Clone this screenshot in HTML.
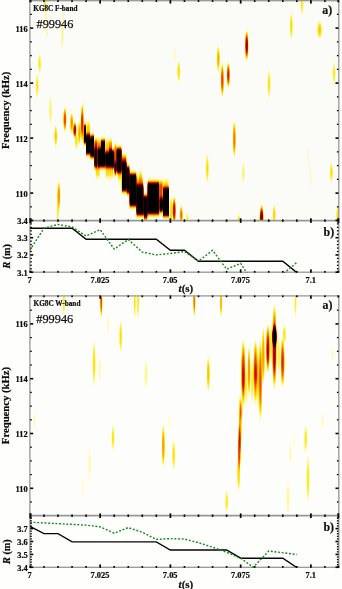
<!DOCTYPE html>
<html lang="en"><head><meta charset="utf-8"><title>KG8C spectrogram #99946</title>
<style>
html,body{margin:0;padding:0;background:#fefefc;}
body{width:342px;height:589px;overflow:hidden;}
svg{display:block;font-family:"Liberation Serif","DejaVu Serif",serif;}
.b{font-weight:bold;}
.tk{font-weight:bold;font-size:8.4px;fill:#0a0a0a;stroke:#0a0a0a;stroke-width:0.22px;}
.b{stroke:#0a0a0a;stroke-width:0.2px;}
</style></head><body>
<svg width="342" height="589" viewBox="0 0 342 589">
<defs>
<filter id="hot" x="0" y="0" width="100%" height="100%" filterUnits="objectBoundingBox" color-interpolation-filters="sRGB">
<feGaussianBlur stdDeviation="0.7 2.0"/>
<feComponentTransfer>
<feFuncR type="table" tableValues="0.996 1 1 1 1 0.96 0.84 0.66 0.43 0.2 0 0 0"/>
<feFuncG type="table" tableValues="0.996 0.98 0.92 0.78 0.59 0.35 0.12 0 0 0 0 0 0"/>
<feFuncB type="table" tableValues="0.988 0.63 0.16 0 0 0 0 0 0 0 0 0 0"/>
</feComponentTransfer>
</filter>
<filter id="hot2" x="0" y="0" width="100%" height="100%" filterUnits="objectBoundingBox" color-interpolation-filters="sRGB">
<feGaussianBlur stdDeviation="0.55 1.0"/>
<feComponentTransfer>
<feFuncR type="table" tableValues="0.996 1 1 1 1 0.96 0.84 0.66 0.43 0.2 0 0 0"/>
<feFuncG type="table" tableValues="0.996 0.98 0.92 0.78 0.59 0.35 0.12 0 0 0 0 0 0"/>
<feFuncB type="table" tableValues="0.988 0.63 0.16 0 0 0 0 0 0 0 0 0 0"/>
</feComponentTransfer>
</filter>
<radialGradient id="g"><stop offset="0" stop-color="#fff" stop-opacity="1"/><stop offset="0.45" stop-color="#fff" stop-opacity="0.86"/><stop offset="0.75" stop-color="#fff" stop-opacity="0.45"/><stop offset="1" stop-color="#fff" stop-opacity="0"/></radialGradient>
<clipPath id="c1"><rect x="29.9" y="0.7" width="308.90000000000003" height="219.9"/></clipPath>
<clipPath id="c2"><rect x="29.9" y="295.9" width="308.90000000000003" height="219.80000000000007"/></clipPath>
</defs>
<rect width="342" height="589" fill="#fefefc"/>

<g clip-path="url(#c1)"><g filter="url(#hot)"><rect x="0" y="0" width="342" height="240" fill="#000"/>
<rect x="83.7" y="125.5" width="2.3" height="17.5" fill="#fff" opacity="1.00"/>
<rect x="86.0" y="136.0" width="4.3" height="18.0" fill="#fff" opacity="1.00"/>
<rect x="90.3" y="136.0" width="3.7" height="21.0" fill="#fff" opacity="1.00"/>
<rect x="94.3" y="149.0" width="3.3" height="18.0" fill="#fff" opacity="1.00"/>
<rect x="98.0" y="149.0" width="3.0" height="18.0" fill="#fff" opacity="1.00"/>
<rect x="101.0" y="140.5" width="4.0" height="26.5" fill="#fff" opacity="1.00"/>
<rect x="105.2" y="154.0" width="3.8" height="13.0" fill="#fff" opacity="1.00"/>
<rect x="109.0" y="150.0" width="3.0" height="17.0" fill="#fff" opacity="1.00"/>
<rect x="112.0" y="150.5" width="2.4" height="17.0" fill="#fff" opacity="1.00"/>
<rect x="114.6" y="163.0" width="1.6" height="9.0" fill="#fff" opacity="1.00"/>
<rect x="116.4" y="148.5" width="5.2" height="24.0" fill="#fff" opacity="1.00"/>
<rect x="121.8" y="162.5" width="4.8" height="28.5" fill="#fff" opacity="1.00"/>
<rect x="126.6" y="167.0" width="2.9" height="26.0" fill="#fff" opacity="1.00"/>
<rect x="129.5" y="174.0" width="6.9" height="32.0" fill="#fff" opacity="1.00"/>
<rect x="136.4" y="185.0" width="7.1" height="30.0" fill="#fff" opacity="1.00"/>
<rect x="143.5" y="196.0" width="4.0" height="20.0" fill="#fff" opacity="1.00"/>
<rect x="147.5" y="182.5" width="11.8" height="31.5" fill="#fff" opacity="1.00"/>
<rect x="159.6" y="199.0" width="3.2" height="12.5" fill="#fff" opacity="1.00"/>
<rect x="163.0" y="188.0" width="6.0" height="28.0" fill="#fff" opacity="1.00"/>
<rect x="86.3" y="123.0" width="3.7" height="13.0" fill="#fff" opacity="0.22"/>
<rect x="86.3" y="134.0" width="3.7" height="5.0" fill="#fff" opacity="0.60"/>
<rect x="94.3" y="140.0" width="3.3" height="11.0" fill="#fff" opacity="0.52"/>
<rect x="98.0" y="141.0" width="3.0" height="10.0" fill="#fff" opacity="0.36"/>
<rect x="105.2" y="141.0" width="3.8" height="11.0" fill="#fff" opacity="0.22"/>
<rect x="105.2" y="151.0" width="3.8" height="5.0" fill="#fff" opacity="0.60"/>
<rect x="105.5" y="167.0" width="7.5" height="10.0" fill="#fff" opacity="0.20"/>
<rect x="95.7" y="167.0" width="3.9" height="10.0" fill="#fff" opacity="0.20"/>
<rect x="109.0" y="141.0" width="3.0" height="10.0" fill="#fff" opacity="0.36"/>
<rect x="114.3" y="165.0" width="1.7" height="10.0" fill="#fff" opacity="0.45"/>
<rect x="114.6" y="145.0" width="1.6" height="19.0" fill="#fff" opacity="0.42"/>
<rect x="121.8" y="156.0" width="4.6" height="9.0" fill="#fff" opacity="0.48"/>
<rect x="118.0" y="172.0" width="3.0" height="8.0" fill="#fff" opacity="0.20"/>
<rect x="136.4" y="178.0" width="6.6" height="9.0" fill="#fff" opacity="0.30"/>
<rect x="139.0" y="172.0" width="3.0" height="10.0" fill="#fff" opacity="0.18"/>
<rect x="144.0" y="214.0" width="3.3" height="6.0" fill="#fff" opacity="0.50"/>
<rect x="159.6" y="182.0" width="3.2" height="19.0" fill="#fff" opacity="0.45"/>
<rect x="163.5" y="181.0" width="5.0" height="10.0" fill="#fff" opacity="0.22"/>
</g>
<g filter="url(#hot2)" style="mix-blend-mode:multiply"><rect x="0" y="0" width="342" height="240" fill="#000"/>
<ellipse cx="44.9" cy="1.5" rx="1.91" ry="12.1" fill="url(#g)" opacity="0.18"/>
<ellipse cx="39.6" cy="63.5" rx="1.91" ry="10.8" fill="url(#g)" opacity="0.18"/>
<ellipse cx="37.2" cy="86.0" rx="1.91" ry="12.7" fill="url(#g)" opacity="0.18"/>
<ellipse cx="50.4" cy="110.5" rx="1.91" ry="15.3" fill="url(#g)" opacity="0.12"/>
<ellipse cx="83.0" cy="107.5" rx="1.84" ry="6.0" fill="url(#g)" opacity="0.08"/>
<ellipse cx="55.7" cy="136.0" rx="1.87" ry="11.8" fill="url(#g)" opacity="0.25"/>
<ellipse cx="58.8" cy="196.0" rx="1.90" ry="15.7" fill="url(#g)" opacity="0.36"/>
<ellipse cx="178.7" cy="71.5" rx="1.88" ry="11.7" fill="url(#g)" opacity="0.21"/>
<ellipse cx="175.0" cy="55.0" rx="1.81" ry="6.7" fill="url(#g)" opacity="0.05"/>
<ellipse cx="218.3" cy="59.0" rx="1.88" ry="13.8" fill="url(#g)" opacity="0.30"/>
<ellipse cx="222.3" cy="80.0" rx="1.99" ry="17.5" fill="url(#g)" opacity="0.47"/>
<ellipse cx="228.3" cy="75.0" rx="2.03" ry="13.0" fill="url(#g)" opacity="0.53"/>
<ellipse cx="246.7" cy="45.5" rx="2.13" ry="15.5" fill="url(#g)" opacity="0.63"/>
<ellipse cx="291.3" cy="26.0" rx="1.88" ry="14.7" fill="url(#g)" opacity="0.21"/>
<ellipse cx="302.0" cy="3.5" rx="1.91" ry="12.1" fill="url(#g)" opacity="0.18"/>
<ellipse cx="269.0" cy="84.0" rx="1.89" ry="14.9" fill="url(#g)" opacity="0.20"/>
<ellipse cx="334.0" cy="73.5" rx="1.91" ry="12.1" fill="url(#g)" opacity="0.18"/>
<ellipse cx="234.3" cy="139.0" rx="1.92" ry="18.9" fill="url(#g)" opacity="0.39"/>
<ellipse cx="207.3" cy="168.5" rx="1.88" ry="15.3" fill="url(#g)" opacity="0.21"/>
<ellipse cx="243.3" cy="172.5" rx="1.91" ry="11.3" fill="url(#g)" opacity="0.12"/>
<ellipse cx="331.4" cy="172.5" rx="1.88" ry="10.4" fill="url(#g)" opacity="0.21"/>
<ellipse cx="261.6" cy="216.5" rx="2.09" ry="12.4" fill="url(#g)" opacity="0.58"/>
<ellipse cx="274.2" cy="215.0" rx="1.88" ry="10.8" fill="url(#g)" opacity="0.23"/>
<ellipse cx="239.0" cy="220.0" rx="1.92" ry="6.4" fill="url(#g)" opacity="0.18"/>
<ellipse cx="337.7" cy="216.0" rx="1.88" ry="12.3" fill="url(#g)" opacity="0.21"/>
<ellipse cx="64.9" cy="119.5" rx="1.99" ry="12.6" fill="url(#g)" opacity="0.47"/>
<ellipse cx="71.7" cy="123.0" rx="1.90" ry="11.2" fill="url(#g)" opacity="0.36"/>
<ellipse cx="74.8" cy="130.0" rx="2.13" ry="8.6" fill="url(#g)" opacity="0.63"/>
<ellipse cx="76.4" cy="141.0" rx="1.88" ry="8.6" fill="url(#g)" opacity="0.21"/>
<ellipse cx="79.4" cy="133.0" rx="1.89" ry="12.6" fill="url(#g)" opacity="0.31"/>
<ellipse cx="82.2" cy="123.5" rx="2.03" ry="18.9" fill="url(#g)" opacity="0.53"/>
<ellipse cx="174.2" cy="210.5" rx="2.10" ry="14.4" fill="url(#g)" opacity="0.60"/>
<ellipse cx="171.0" cy="210.5" rx="1.88" ry="15.1" fill="url(#g)" opacity="0.23"/>
<ellipse cx="181.2" cy="215.0" rx="1.94" ry="9.9" fill="url(#g)" opacity="0.41"/>
<ellipse cx="187.3" cy="218.5" rx="1.96" ry="6.0" fill="url(#g)" opacity="0.15"/>
<ellipse cx="319.6" cy="29.8" rx="2.86" ry="9.2" fill="url(#g)" opacity="0.25"/>
<ellipse cx="261.6" cy="220.0" rx="3.22" ry="11.5" fill="url(#g)" opacity="0.30"/>
<line x1="45.2" y1="4" x2="47.2" y2="36" stroke="#fff" stroke-opacity="0.075" stroke-width="1.6" stroke-linecap="round"/>
<ellipse cx="57.7" cy="212.5" rx="1.43" ry="12.3" fill="url(#g)" opacity="0.17"/>
<line x1="63.3" y1="13" x2="62.1" y2="46" stroke="#fff" stroke-opacity="0.07" stroke-width="1.6" stroke-linecap="round"/>
<line x1="62.8" y1="26" x2="62.3" y2="42" stroke="#fff" stroke-opacity="0.05" stroke-width="1.6" stroke-linecap="round"/>
<line x1="307.5" y1="150" x2="311.8" y2="185.5" stroke="#fff" stroke-opacity="0.05" stroke-width="1.4" stroke-linecap="round"/>
</g></g>
<g clip-path="url(#c2)"><g filter="url(#hot2)"><rect x="0" y="280" width="342" height="250" fill="#000"/>
<ellipse cx="120.7" cy="336.5" rx="1.88" ry="16.6" fill="url(#g)" opacity="0.21"/>
<ellipse cx="94.0" cy="363.5" rx="1.88" ry="23.9" fill="url(#g)" opacity="0.21"/>
<ellipse cx="99.7" cy="369.0" rx="1.84" ry="14.7" fill="url(#g)" opacity="0.07"/>
<ellipse cx="108.0" cy="323.5" rx="1.81" ry="11.3" fill="url(#g)" opacity="0.05"/>
<ellipse cx="208.3" cy="374.0" rx="1.88" ry="18.8" fill="url(#g)" opacity="0.27"/>
<ellipse cx="146.0" cy="374.5" rx="1.90" ry="15.3" fill="url(#g)" opacity="0.11"/>
<ellipse cx="332.7" cy="354.0" rx="1.82" ry="6.7" fill="url(#g)" opacity="0.06"/>
<ellipse cx="113.0" cy="438.0" rx="1.89" ry="13.7" fill="url(#g)" opacity="0.20"/>
<ellipse cx="89.7" cy="465.0" rx="1.84" ry="18.7" fill="url(#g)" opacity="0.07"/>
<ellipse cx="34.7" cy="421.5" rx="1.81" ry="10.0" fill="url(#g)" opacity="0.05"/>
<ellipse cx="83.0" cy="486.5" rx="1.79" ry="12.7" fill="url(#g)" opacity="0.04"/>
<ellipse cx="163.3" cy="446.0" rx="1.90" ry="22.6" fill="url(#g)" opacity="0.34"/>
<ellipse cx="173.7" cy="455.0" rx="1.88" ry="16.0" fill="url(#g)" opacity="0.21"/>
<ellipse cx="169.0" cy="421.5" rx="1.79" ry="10.0" fill="url(#g)" opacity="0.04"/>
<ellipse cx="226.7" cy="501.5" rx="1.91" ry="12.1" fill="url(#g)" opacity="0.18"/>
<ellipse cx="305.7" cy="439.0" rx="1.91" ry="15.3" fill="url(#g)" opacity="0.18"/>
<ellipse cx="308.0" cy="479.0" rx="1.90" ry="25.2" fill="url(#g)" opacity="0.19"/>
<ellipse cx="290.3" cy="453.5" rx="1.82" ry="12.7" fill="url(#g)" opacity="0.06"/>
<ellipse cx="288.0" cy="498.5" rx="1.88" ry="19.3" fill="url(#g)" opacity="0.10"/>
<ellipse cx="322.3" cy="421.5" rx="1.80" ry="10.0" fill="url(#g)" opacity="0.05"/>
<ellipse cx="294.0" cy="440.0" rx="1.79" ry="8.0" fill="url(#g)" opacity="0.04"/>
<ellipse cx="241.2" cy="410.0" rx="1.88" ry="12.0" fill="url(#g)" opacity="0.23"/>
<ellipse cx="249.0" cy="371.0" rx="1.90" ry="25.8" fill="url(#g)" opacity="0.36"/>
<ellipse cx="263.3" cy="356.0" rx="1.89" ry="30.7" fill="url(#g)" opacity="0.33"/>
<ellipse cx="284.4" cy="334.0" rx="1.89" ry="9.9" fill="url(#g)" opacity="0.20"/>
<ellipse cx="240.2" cy="422.5" rx="1.90" ry="31.1" fill="url(#g)" opacity="0.34"/>
<ellipse cx="239.3" cy="447.5" rx="2.00" ry="24.6" fill="url(#g)" opacity="0.48"/>
<ellipse cx="238.6" cy="472.5" rx="1.88" ry="21.1" fill="url(#g)" opacity="0.23"/>
<ellipse cx="63.8" cy="302.0" rx="1.51" ry="15.1" fill="url(#g)" opacity="0.19"/>
<ellipse cx="101.3" cy="301.5" rx="1.48" ry="16.9" fill="url(#g)" opacity="0.47"/>
<ellipse cx="134.7" cy="302.0" rx="1.35" ry="17.2" fill="url(#g)" opacity="0.21"/>
<ellipse cx="138.0" cy="302.0" rx="1.40" ry="17.8" fill="url(#g)" opacity="0.18"/>
<ellipse cx="194.3" cy="301.0" rx="1.44" ry="16.6" fill="url(#g)" opacity="0.41"/>
<ellipse cx="221.0" cy="302.0" rx="1.44" ry="16.1" fill="url(#g)" opacity="0.30"/>
<ellipse cx="295.5" cy="302.5" rx="1.40" ry="15.9" fill="url(#g)" opacity="0.18"/>
<ellipse cx="243.3" cy="373.5" rx="2.61" ry="35.3" fill="url(#g)" opacity="0.51"/>
<ellipse cx="243.2" cy="379.5" rx="2.00" ry="16.7" fill="url(#g)" opacity="0.13"/>
<ellipse cx="255.5" cy="371.5" rx="2.50" ry="33.2" fill="url(#g)" opacity="0.49"/>
<ellipse cx="255.6" cy="374.0" rx="2.00" ry="12.0" fill="url(#g)" opacity="0.13"/>
<ellipse cx="260.4" cy="380.0" rx="2.20" ry="42.9" fill="url(#g)" opacity="0.45"/>
<ellipse cx="267.9" cy="348.5" rx="2.37" ry="25.3" fill="url(#g)" opacity="0.56"/>
<ellipse cx="267.8" cy="353.0" rx="2.00" ry="14.7" fill="url(#g)" opacity="0.13"/>
<ellipse cx="274.4" cy="347.0" rx="2.69" ry="44.1" fill="url(#g)" opacity="0.58"/>
<ellipse cx="274.5" cy="336.5" rx="2.81" ry="13.0" fill="url(#g)" opacity="1.00"/>
<ellipse cx="274.3" cy="360.5" rx="2.27" ry="20.7" fill="url(#g)" opacity="0.15"/>
<ellipse cx="282.6" cy="362.0" rx="2.39" ry="26.1" fill="url(#g)" opacity="0.50"/>
<ellipse cx="252.3" cy="381.0" rx="1.66" ry="24.2" fill="url(#g)" opacity="0.18"/>
<ellipse cx="258.0" cy="377.5" rx="1.61" ry="34.2" fill="url(#g)" opacity="0.20"/>
<ellipse cx="271.2" cy="344.0" rx="1.64" ry="22.6" fill="url(#g)" opacity="0.19"/>
<ellipse cx="278.6" cy="355.0" rx="1.73" ry="22.7" fill="url(#g)" opacity="0.15"/>
<ellipse cx="246.3" cy="387.0" rx="1.73" ry="20.0" fill="url(#g)" opacity="0.15"/>
</g></g>
<g fill="none" stroke="#979797" stroke-width="1.3">
<rect x="29.9" y="0.7" width="308.90000000000003" height="271.5"/>
<line x1="29.9" y1="220.6" x2="338.8" y2="220.6" stroke-width="1.7"/>
</g>
<rect x="29.30" y="0.10" width="2.3" height="2.2" fill="#111"/>
<rect x="337.30" y="0.10" width="2.0" height="2.2" fill="#111"/>
<rect x="29.30" y="218.10" width="2.3" height="5.0" fill="#111"/>
<rect x="337.30" y="218.10" width="2.0" height="5.0" fill="#111"/>
<rect x="29.30" y="270.60" width="2.3" height="2.2" fill="#111"/>
<rect x="337.30" y="270.60" width="2.0" height="2.2" fill="#111"/>
<g fill="none" stroke="#979797" stroke-width="1.3">
<rect x="29.9" y="295.9" width="308.90000000000003" height="271.4"/>
<line x1="29.9" y1="515.7" x2="338.8" y2="515.7" stroke-width="1.7"/>
</g>
<rect x="29.30" y="295.30" width="2.3" height="2.2" fill="#111"/>
<rect x="337.30" y="295.30" width="2.0" height="2.2" fill="#111"/>
<rect x="29.30" y="513.20" width="2.3" height="5.0" fill="#111"/>
<rect x="337.30" y="513.20" width="2.0" height="5.0" fill="#111"/>
<rect x="29.30" y="565.70" width="2.3" height="2.2" fill="#111"/>
<rect x="337.30" y="565.70" width="2.0" height="2.2" fill="#111"/>
<g>
<rect x="43.15" y="0.20" width="1.6" height="1.80" fill="#000"/>
<rect x="57.20" y="0.20" width="1.6" height="1.80" fill="#000"/>
<rect x="71.25" y="0.20" width="1.6" height="1.80" fill="#000"/>
<rect x="85.30" y="0.20" width="1.6" height="1.80" fill="#000"/>
<rect x="99.30" y="0.20" width="1.7" height="3.40" fill="#000"/>
<rect x="113.40" y="0.20" width="1.6" height="1.80" fill="#000"/>
<rect x="127.45" y="0.20" width="1.6" height="1.80" fill="#000"/>
<rect x="141.50" y="0.20" width="1.6" height="1.80" fill="#000"/>
<rect x="155.55" y="0.20" width="1.6" height="1.80" fill="#000"/>
<rect x="169.55" y="0.20" width="1.7" height="3.40" fill="#000"/>
<rect x="183.65" y="0.20" width="1.6" height="1.80" fill="#000"/>
<rect x="197.70" y="0.20" width="1.6" height="1.80" fill="#000"/>
<rect x="211.75" y="0.20" width="1.6" height="1.80" fill="#000"/>
<rect x="225.80" y="0.20" width="1.6" height="1.80" fill="#000"/>
<rect x="239.80" y="0.20" width="1.7" height="3.40" fill="#000"/>
<rect x="253.90" y="0.20" width="1.6" height="1.80" fill="#000"/>
<rect x="267.95" y="0.20" width="1.6" height="1.80" fill="#000"/>
<rect x="282.00" y="0.20" width="1.6" height="1.80" fill="#000"/>
<rect x="296.05" y="0.20" width="1.6" height="1.80" fill="#000"/>
<rect x="310.05" y="0.20" width="1.7" height="3.40" fill="#000"/>
<rect x="324.15" y="0.20" width="1.6" height="1.80" fill="#000"/>
<rect x="43.15" y="219.40" width="1.6" height="2.40" fill="#000"/>
<rect x="57.20" y="219.40" width="1.6" height="2.40" fill="#000"/>
<rect x="71.25" y="219.40" width="1.6" height="2.40" fill="#000"/>
<rect x="85.30" y="219.40" width="1.6" height="2.40" fill="#000"/>
<rect x="99.30" y="218.30" width="1.7" height="4.60" fill="#000"/>
<rect x="113.40" y="219.40" width="1.6" height="2.40" fill="#000"/>
<rect x="127.45" y="219.40" width="1.6" height="2.40" fill="#000"/>
<rect x="141.50" y="219.40" width="1.6" height="2.40" fill="#000"/>
<rect x="155.55" y="219.40" width="1.6" height="2.40" fill="#000"/>
<rect x="169.55" y="218.30" width="1.7" height="4.60" fill="#000"/>
<rect x="183.65" y="219.40" width="1.6" height="2.40" fill="#000"/>
<rect x="197.70" y="219.40" width="1.6" height="2.40" fill="#000"/>
<rect x="211.75" y="219.40" width="1.6" height="2.40" fill="#000"/>
<rect x="225.80" y="219.40" width="1.6" height="2.40" fill="#000"/>
<rect x="239.80" y="218.30" width="1.7" height="4.60" fill="#000"/>
<rect x="253.90" y="219.40" width="1.6" height="2.40" fill="#000"/>
<rect x="267.95" y="219.40" width="1.6" height="2.40" fill="#000"/>
<rect x="282.00" y="219.40" width="1.6" height="2.40" fill="#000"/>
<rect x="296.05" y="219.40" width="1.6" height="2.40" fill="#000"/>
<rect x="310.05" y="218.30" width="1.7" height="4.60" fill="#000"/>
<rect x="324.15" y="219.40" width="1.6" height="2.40" fill="#000"/>
<rect x="43.15" y="270.90" width="1.6" height="1.80" fill="#000"/>
<rect x="57.20" y="270.90" width="1.6" height="1.80" fill="#000"/>
<rect x="71.25" y="270.90" width="1.6" height="1.80" fill="#000"/>
<rect x="85.30" y="270.90" width="1.6" height="1.80" fill="#000"/>
<rect x="99.30" y="269.30" width="1.7" height="3.40" fill="#000"/>
<rect x="113.40" y="270.90" width="1.6" height="1.80" fill="#000"/>
<rect x="127.45" y="270.90" width="1.6" height="1.80" fill="#000"/>
<rect x="141.50" y="270.90" width="1.6" height="1.80" fill="#000"/>
<rect x="155.55" y="270.90" width="1.6" height="1.80" fill="#000"/>
<rect x="169.55" y="269.30" width="1.7" height="3.40" fill="#000"/>
<rect x="183.65" y="270.90" width="1.6" height="1.80" fill="#000"/>
<rect x="197.70" y="270.90" width="1.6" height="1.80" fill="#000"/>
<rect x="211.75" y="270.90" width="1.6" height="1.80" fill="#000"/>
<rect x="225.80" y="270.90" width="1.6" height="1.80" fill="#000"/>
<rect x="239.80" y="269.30" width="1.7" height="3.40" fill="#000"/>
<rect x="253.90" y="270.90" width="1.6" height="1.80" fill="#000"/>
<rect x="267.95" y="270.90" width="1.6" height="1.80" fill="#000"/>
<rect x="282.00" y="270.90" width="1.6" height="1.80" fill="#000"/>
<rect x="296.05" y="270.90" width="1.6" height="1.80" fill="#000"/>
<rect x="310.05" y="269.30" width="1.7" height="3.40" fill="#000"/>
<rect x="324.15" y="270.90" width="1.6" height="1.80" fill="#000"/>
<rect x="43.15" y="295.40" width="1.6" height="1.80" fill="#000"/>
<rect x="57.20" y="295.40" width="1.6" height="1.80" fill="#000"/>
<rect x="71.25" y="295.40" width="1.6" height="1.80" fill="#000"/>
<rect x="85.30" y="295.40" width="1.6" height="1.80" fill="#000"/>
<rect x="99.30" y="295.40" width="1.7" height="3.40" fill="#000"/>
<rect x="113.40" y="295.40" width="1.6" height="1.80" fill="#000"/>
<rect x="127.45" y="295.40" width="1.6" height="1.80" fill="#000"/>
<rect x="141.50" y="295.40" width="1.6" height="1.80" fill="#000"/>
<rect x="155.55" y="295.40" width="1.6" height="1.80" fill="#000"/>
<rect x="169.55" y="295.40" width="1.7" height="3.40" fill="#000"/>
<rect x="183.65" y="295.40" width="1.6" height="1.80" fill="#000"/>
<rect x="197.70" y="295.40" width="1.6" height="1.80" fill="#000"/>
<rect x="211.75" y="295.40" width="1.6" height="1.80" fill="#000"/>
<rect x="225.80" y="295.40" width="1.6" height="1.80" fill="#000"/>
<rect x="239.80" y="295.40" width="1.7" height="3.40" fill="#000"/>
<rect x="253.90" y="295.40" width="1.6" height="1.80" fill="#000"/>
<rect x="267.95" y="295.40" width="1.6" height="1.80" fill="#000"/>
<rect x="282.00" y="295.40" width="1.6" height="1.80" fill="#000"/>
<rect x="296.05" y="295.40" width="1.6" height="1.80" fill="#000"/>
<rect x="310.05" y="295.40" width="1.7" height="3.40" fill="#000"/>
<rect x="324.15" y="295.40" width="1.6" height="1.80" fill="#000"/>
<rect x="43.15" y="514.50" width="1.6" height="2.40" fill="#000"/>
<rect x="57.20" y="514.50" width="1.6" height="2.40" fill="#000"/>
<rect x="71.25" y="514.50" width="1.6" height="2.40" fill="#000"/>
<rect x="85.30" y="514.50" width="1.6" height="2.40" fill="#000"/>
<rect x="99.30" y="513.40" width="1.7" height="4.60" fill="#000"/>
<rect x="113.40" y="514.50" width="1.6" height="2.40" fill="#000"/>
<rect x="127.45" y="514.50" width="1.6" height="2.40" fill="#000"/>
<rect x="141.50" y="514.50" width="1.6" height="2.40" fill="#000"/>
<rect x="155.55" y="514.50" width="1.6" height="2.40" fill="#000"/>
<rect x="169.55" y="513.40" width="1.7" height="4.60" fill="#000"/>
<rect x="183.65" y="514.50" width="1.6" height="2.40" fill="#000"/>
<rect x="197.70" y="514.50" width="1.6" height="2.40" fill="#000"/>
<rect x="211.75" y="514.50" width="1.6" height="2.40" fill="#000"/>
<rect x="225.80" y="514.50" width="1.6" height="2.40" fill="#000"/>
<rect x="239.80" y="513.40" width="1.7" height="4.60" fill="#000"/>
<rect x="253.90" y="514.50" width="1.6" height="2.40" fill="#000"/>
<rect x="267.95" y="514.50" width="1.6" height="2.40" fill="#000"/>
<rect x="282.00" y="514.50" width="1.6" height="2.40" fill="#000"/>
<rect x="296.05" y="514.50" width="1.6" height="2.40" fill="#000"/>
<rect x="310.05" y="513.40" width="1.7" height="4.60" fill="#000"/>
<rect x="324.15" y="514.50" width="1.6" height="2.40" fill="#000"/>
<rect x="43.15" y="566.00" width="1.6" height="1.80" fill="#000"/>
<rect x="57.20" y="566.00" width="1.6" height="1.80" fill="#000"/>
<rect x="71.25" y="566.00" width="1.6" height="1.80" fill="#000"/>
<rect x="85.30" y="566.00" width="1.6" height="1.80" fill="#000"/>
<rect x="99.30" y="564.40" width="1.7" height="3.40" fill="#000"/>
<rect x="113.40" y="566.00" width="1.6" height="1.80" fill="#000"/>
<rect x="127.45" y="566.00" width="1.6" height="1.80" fill="#000"/>
<rect x="141.50" y="566.00" width="1.6" height="1.80" fill="#000"/>
<rect x="155.55" y="566.00" width="1.6" height="1.80" fill="#000"/>
<rect x="169.55" y="564.40" width="1.7" height="3.40" fill="#000"/>
<rect x="183.65" y="566.00" width="1.6" height="1.80" fill="#000"/>
<rect x="197.70" y="566.00" width="1.6" height="1.80" fill="#000"/>
<rect x="211.75" y="566.00" width="1.6" height="1.80" fill="#000"/>
<rect x="225.80" y="566.00" width="1.6" height="1.80" fill="#000"/>
<rect x="239.80" y="564.40" width="1.7" height="3.40" fill="#000"/>
<rect x="253.90" y="566.00" width="1.6" height="1.80" fill="#000"/>
<rect x="267.95" y="566.00" width="1.6" height="1.80" fill="#000"/>
<rect x="282.00" y="566.00" width="1.6" height="1.80" fill="#000"/>
<rect x="296.05" y="566.00" width="1.6" height="1.80" fill="#000"/>
<rect x="310.05" y="564.40" width="1.7" height="3.40" fill="#000"/>
<rect x="324.15" y="566.00" width="1.6" height="1.80" fill="#000"/>
<rect x="30.20" y="206.20" width="1.6" height="1.3" fill="#000"/>
<rect x="336.90" y="206.20" width="1.6" height="1.3" fill="#000"/>
<rect x="30.20" y="178.70" width="1.6" height="1.3" fill="#000"/>
<rect x="336.90" y="178.70" width="1.6" height="1.3" fill="#000"/>
<rect x="30.20" y="164.95" width="1.6" height="1.3" fill="#000"/>
<rect x="336.90" y="164.95" width="1.6" height="1.3" fill="#000"/>
<rect x="30.20" y="151.20" width="1.6" height="1.3" fill="#000"/>
<rect x="336.90" y="151.20" width="1.6" height="1.3" fill="#000"/>
<rect x="30.20" y="123.70" width="1.6" height="1.3" fill="#000"/>
<rect x="336.90" y="123.70" width="1.6" height="1.3" fill="#000"/>
<rect x="30.20" y="109.95" width="1.6" height="1.3" fill="#000"/>
<rect x="336.90" y="109.95" width="1.6" height="1.3" fill="#000"/>
<rect x="30.20" y="96.20" width="1.6" height="1.3" fill="#000"/>
<rect x="336.90" y="96.20" width="1.6" height="1.3" fill="#000"/>
<rect x="30.20" y="68.70" width="1.6" height="1.3" fill="#000"/>
<rect x="336.90" y="68.70" width="1.6" height="1.3" fill="#000"/>
<rect x="30.20" y="54.95" width="1.6" height="1.3" fill="#000"/>
<rect x="336.90" y="54.95" width="1.6" height="1.3" fill="#000"/>
<rect x="30.20" y="41.20" width="1.6" height="1.3" fill="#000"/>
<rect x="336.90" y="41.20" width="1.6" height="1.3" fill="#000"/>
<rect x="30.20" y="13.70" width="1.6" height="1.3" fill="#000"/>
<rect x="336.90" y="13.70" width="1.6" height="1.3" fill="#000"/>
<rect x="30.20" y="192.30" width="3.0" height="1.6" fill="#000"/>
<rect x="335.50" y="192.30" width="3.0" height="1.6" fill="#000"/>
<rect x="30.20" y="137.30" width="3.0" height="1.6" fill="#000"/>
<rect x="335.50" y="137.30" width="3.0" height="1.6" fill="#000"/>
<rect x="30.20" y="82.30" width="3.0" height="1.6" fill="#000"/>
<rect x="335.50" y="82.30" width="3.0" height="1.6" fill="#000"/>
<rect x="30.20" y="27.30" width="3.0" height="1.6" fill="#000"/>
<rect x="335.50" y="27.30" width="3.0" height="1.6" fill="#000"/>
<rect x="30.20" y="501.35" width="1.6" height="1.3" fill="#000"/>
<rect x="336.90" y="501.35" width="1.6" height="1.3" fill="#000"/>
<rect x="30.20" y="473.95" width="1.6" height="1.3" fill="#000"/>
<rect x="336.90" y="473.95" width="1.6" height="1.3" fill="#000"/>
<rect x="30.20" y="460.25" width="1.6" height="1.3" fill="#000"/>
<rect x="336.90" y="460.25" width="1.6" height="1.3" fill="#000"/>
<rect x="30.20" y="446.55" width="1.6" height="1.3" fill="#000"/>
<rect x="336.90" y="446.55" width="1.6" height="1.3" fill="#000"/>
<rect x="30.20" y="419.15" width="1.6" height="1.3" fill="#000"/>
<rect x="336.90" y="419.15" width="1.6" height="1.3" fill="#000"/>
<rect x="30.20" y="405.45" width="1.6" height="1.3" fill="#000"/>
<rect x="336.90" y="405.45" width="1.6" height="1.3" fill="#000"/>
<rect x="30.20" y="391.75" width="1.6" height="1.3" fill="#000"/>
<rect x="336.90" y="391.75" width="1.6" height="1.3" fill="#000"/>
<rect x="30.20" y="364.35" width="1.6" height="1.3" fill="#000"/>
<rect x="336.90" y="364.35" width="1.6" height="1.3" fill="#000"/>
<rect x="30.20" y="350.65" width="1.6" height="1.3" fill="#000"/>
<rect x="336.90" y="350.65" width="1.6" height="1.3" fill="#000"/>
<rect x="30.20" y="336.95" width="1.6" height="1.3" fill="#000"/>
<rect x="336.90" y="336.95" width="1.6" height="1.3" fill="#000"/>
<rect x="30.20" y="309.55" width="1.6" height="1.3" fill="#000"/>
<rect x="336.90" y="309.55" width="1.6" height="1.3" fill="#000"/>
<rect x="30.20" y="487.50" width="3.0" height="1.6" fill="#000"/>
<rect x="335.50" y="487.50" width="3.0" height="1.6" fill="#000"/>
<rect x="30.20" y="432.70" width="3.0" height="1.6" fill="#000"/>
<rect x="335.50" y="432.70" width="3.0" height="1.6" fill="#000"/>
<rect x="30.20" y="377.90" width="3.0" height="1.6" fill="#000"/>
<rect x="335.50" y="377.90" width="3.0" height="1.6" fill="#000"/>
<rect x="30.20" y="323.10" width="3.0" height="1.6" fill="#000"/>
<rect x="335.50" y="323.10" width="3.0" height="1.6" fill="#000"/>
<rect x="30.20" y="268.10" width="1.6" height="1.3" fill="#000"/>
<rect x="336.90" y="268.10" width="1.6" height="1.3" fill="#000"/>
<rect x="30.20" y="264.65" width="1.6" height="1.3" fill="#000"/>
<rect x="336.90" y="264.65" width="1.6" height="1.3" fill="#000"/>
<rect x="30.20" y="261.20" width="1.6" height="1.3" fill="#000"/>
<rect x="336.90" y="261.20" width="1.6" height="1.3" fill="#000"/>
<rect x="30.20" y="257.75" width="1.6" height="1.3" fill="#000"/>
<rect x="336.90" y="257.75" width="1.6" height="1.3" fill="#000"/>
<rect x="30.20" y="250.85" width="1.6" height="1.3" fill="#000"/>
<rect x="336.90" y="250.85" width="1.6" height="1.3" fill="#000"/>
<rect x="30.20" y="247.40" width="1.6" height="1.3" fill="#000"/>
<rect x="336.90" y="247.40" width="1.6" height="1.3" fill="#000"/>
<rect x="30.20" y="243.95" width="1.6" height="1.3" fill="#000"/>
<rect x="336.90" y="243.95" width="1.6" height="1.3" fill="#000"/>
<rect x="30.20" y="240.50" width="1.6" height="1.3" fill="#000"/>
<rect x="336.90" y="240.50" width="1.6" height="1.3" fill="#000"/>
<rect x="30.20" y="233.60" width="1.6" height="1.3" fill="#000"/>
<rect x="336.90" y="233.60" width="1.6" height="1.3" fill="#000"/>
<rect x="30.20" y="230.15" width="1.6" height="1.3" fill="#000"/>
<rect x="336.90" y="230.15" width="1.6" height="1.3" fill="#000"/>
<rect x="30.20" y="226.70" width="1.6" height="1.3" fill="#000"/>
<rect x="336.90" y="226.70" width="1.6" height="1.3" fill="#000"/>
<rect x="30.20" y="223.25" width="1.6" height="1.3" fill="#000"/>
<rect x="336.90" y="223.25" width="1.6" height="1.3" fill="#000"/>
<rect x="30.20" y="271.40" width="3.0" height="1.6" fill="#000"/>
<rect x="335.50" y="271.40" width="3.0" height="1.6" fill="#000"/>
<rect x="30.20" y="254.15" width="3.0" height="1.6" fill="#000"/>
<rect x="335.50" y="254.15" width="3.0" height="1.6" fill="#000"/>
<rect x="30.20" y="236.90" width="3.0" height="1.6" fill="#000"/>
<rect x="335.50" y="236.90" width="3.0" height="1.6" fill="#000"/>
<rect x="30.20" y="219.65" width="3.0" height="1.6" fill="#000"/>
<rect x="335.50" y="219.65" width="3.0" height="1.6" fill="#000"/>
<rect x="30.20" y="564.07" width="1.6" height="1.3" fill="#000"/>
<rect x="336.90" y="564.07" width="1.6" height="1.3" fill="#000"/>
<rect x="30.20" y="561.49" width="1.6" height="1.3" fill="#000"/>
<rect x="336.90" y="561.49" width="1.6" height="1.3" fill="#000"/>
<rect x="30.20" y="558.91" width="1.6" height="1.3" fill="#000"/>
<rect x="336.90" y="558.91" width="1.6" height="1.3" fill="#000"/>
<rect x="30.20" y="556.33" width="1.6" height="1.3" fill="#000"/>
<rect x="336.90" y="556.33" width="1.6" height="1.3" fill="#000"/>
<rect x="30.20" y="551.17" width="1.6" height="1.3" fill="#000"/>
<rect x="336.90" y="551.17" width="1.6" height="1.3" fill="#000"/>
<rect x="30.20" y="548.59" width="1.6" height="1.3" fill="#000"/>
<rect x="336.90" y="548.59" width="1.6" height="1.3" fill="#000"/>
<rect x="30.20" y="546.01" width="1.6" height="1.3" fill="#000"/>
<rect x="336.90" y="546.01" width="1.6" height="1.3" fill="#000"/>
<rect x="30.20" y="543.43" width="1.6" height="1.3" fill="#000"/>
<rect x="336.90" y="543.43" width="1.6" height="1.3" fill="#000"/>
<rect x="30.20" y="538.27" width="1.6" height="1.3" fill="#000"/>
<rect x="336.90" y="538.27" width="1.6" height="1.3" fill="#000"/>
<rect x="30.20" y="535.69" width="1.6" height="1.3" fill="#000"/>
<rect x="336.90" y="535.69" width="1.6" height="1.3" fill="#000"/>
<rect x="30.20" y="533.11" width="1.6" height="1.3" fill="#000"/>
<rect x="336.90" y="533.11" width="1.6" height="1.3" fill="#000"/>
<rect x="30.20" y="530.53" width="1.6" height="1.3" fill="#000"/>
<rect x="336.90" y="530.53" width="1.6" height="1.3" fill="#000"/>
<rect x="30.20" y="525.37" width="1.6" height="1.3" fill="#000"/>
<rect x="336.90" y="525.37" width="1.6" height="1.3" fill="#000"/>
<rect x="30.20" y="522.79" width="1.6" height="1.3" fill="#000"/>
<rect x="336.90" y="522.79" width="1.6" height="1.3" fill="#000"/>
<rect x="30.20" y="520.21" width="1.6" height="1.3" fill="#000"/>
<rect x="336.90" y="520.21" width="1.6" height="1.3" fill="#000"/>
<rect x="30.20" y="517.63" width="1.6" height="1.3" fill="#000"/>
<rect x="336.90" y="517.63" width="1.6" height="1.3" fill="#000"/>
<rect x="30.20" y="566.50" width="3.0" height="1.6" fill="#000"/>
<rect x="335.50" y="566.50" width="3.0" height="1.6" fill="#000"/>
<rect x="30.20" y="553.60" width="3.0" height="1.6" fill="#000"/>
<rect x="335.50" y="553.60" width="3.0" height="1.6" fill="#000"/>
<rect x="30.20" y="540.70" width="3.0" height="1.6" fill="#000"/>
<rect x="335.50" y="540.70" width="3.0" height="1.6" fill="#000"/>
<rect x="30.20" y="527.80" width="3.0" height="1.6" fill="#000"/>
<rect x="335.50" y="527.80" width="3.0" height="1.6" fill="#000"/>
</g>
<defs><clipPath id="cb1"><rect x="29.9" y="220.6" width="308.90000000000003" height="52.199999999999996"/></clipPath><clipPath id="cb2"><rect x="29.9" y="515.7" width="308.90000000000003" height="52.19999999999991"/></clipPath></defs>
<g clip-path="url(#cb1)" fill="none">
<polyline points="29.9,228.3 72.1,228.3 86.1,239.3 156.3,239.3 170.4,250.3 184.5,250.3 198.5,261.3 282.8,261.3 296.8,272.6" stroke="#050505" stroke-width="1.4" stroke-linejoin="miter"/>
<polyline points="29.9,250.1 44.0,228.2 58.0,224.4 72.1,227.0 86.1,236.0 100.2,229.7 114.2,249.1 128.2,239.5 142.3,252.1 156.3,254.9 170.4,253.5 184.5,251.6 198.5,261.2 212.6,250.3 226.6,269.2 240.7,263.4 254.7,285.4 268.8,292.0 282.8,274.2 296.8,262.5" stroke="#0f8a0f" stroke-width="1.4" stroke-dasharray="1.9 1.75"/>
</g>
<g clip-path="url(#cb2)" fill="none">
<polyline points="29.9,526.3 44.0,533.6 58.0,533.6 72.1,541.9 156.3,541.9 170.4,550.0 226.6,550.0 240.7,558.2 282.8,558.2 296.8,567.5" stroke="#050505" stroke-width="1.4" stroke-linejoin="miter"/>
<polyline points="29.9,522.2 86.1,525.1 100.2,526.9 114.2,533.2 128.2,527.6 142.3,532.2 156.3,539.4 170.4,538.6 184.5,539.0 198.5,542.7 212.6,547.2 226.6,552.3 240.7,558.3 253.3,567.2 268.8,551.0 296.8,554.5" stroke="#0f8a0f" stroke-width="1.4" stroke-dasharray="1.9 1.75"/>
</g>
<text class="tk" x="27.7" y="196.5" text-anchor="end">110</text>
<text class="tk" x="27.7" y="141.5" text-anchor="end">112</text>
<text class="tk" x="27.7" y="86.5" text-anchor="end">114</text>
<text class="tk" x="27.7" y="31.5" text-anchor="end">116</text>
<text class="tk" x="27.7" y="491.7" text-anchor="end">110</text>
<text class="tk" x="27.7" y="436.9" text-anchor="end">112</text>
<text class="tk" x="27.7" y="382.1" text-anchor="end">114</text>
<text class="tk" x="27.7" y="327.3" text-anchor="end">116</text>
<text class="tk" x="27.7" y="275.6" text-anchor="end">3.1</text>
<text class="tk" x="27.7" y="258.3" text-anchor="end">3.2</text>
<text class="tk" x="27.7" y="241.1" text-anchor="end">3.3</text>
<text class="tk" x="27.7" y="223.9" text-anchor="end">3.4</text>
<text class="tk" x="27.7" y="570.7" text-anchor="end">3.4</text>
<text class="tk" x="27.7" y="557.8" text-anchor="end">3.5</text>
<text class="tk" x="27.7" y="544.9" text-anchor="end">3.6</text>
<text class="tk" x="27.7" y="532.0" text-anchor="end">3.7</text>
<text class="tk" x="29.7" y="282.6" text-anchor="middle">7</text>
<text class="tk" x="100.0" y="282.6" text-anchor="middle">7.025</text>
<text class="tk" x="170.2" y="282.6" text-anchor="middle">7.05</text>
<text class="tk" x="240.5" y="282.6" text-anchor="middle">7.075</text>
<text class="tk" x="310.7" y="282.6" text-anchor="middle">7.1</text>
<text class="tk" x="29.7" y="578.0" text-anchor="middle">7</text>
<text class="tk" x="100.0" y="578.0" text-anchor="middle">7.025</text>
<text class="tk" x="170.2" y="578.0" text-anchor="middle">7.05</text>
<text class="tk" x="240.5" y="578.0" text-anchor="middle">7.075</text>
<text class="tk" x="310.7" y="578.0" text-anchor="middle">7.1</text>
<text class="b" x="178.6" y="291.7" font-size="11" fill="#0a0a0a"><tspan font-style="italic">t</tspan>(s)</text>
<text class="b" x="178.6" y="587.5" font-size="11" fill="#0a0a0a"><tspan font-style="italic">t</tspan>(s)</text>
<text class="b" x="33.3" y="10.9" font-size="7.2" fill="#111">KG8C F-band</text>
<text x="36.5" y="27.8" font-size="12.3" fill="#111" stroke="#111" stroke-width="0.25">#99946</text>
<text class="b" x="33.5" y="306.3" font-size="7.25" fill="#111">KG8C W-band</text>
<text x="36.3" y="322.9" font-size="12.3" fill="#111" stroke="#111" stroke-width="0.25">#99946</text>
<text class="b" x="322.3" y="14.2" font-size="11.9" fill="#111">a)</text>
<text class="b" x="323.6" y="236.3" font-size="11.9" fill="#111">b)</text>
<text class="b" x="322.6" y="308.6" font-size="11.9" fill="#111">a)</text>
<text class="b" x="323.4" y="531.2" font-size="11.9" fill="#111">b)</text>
<text class="b" transform="translate(9.0,110.3) rotate(-90)" text-anchor="middle" font-size="10.7" fill="#0a0a0a">Frequency (kHz)</text>
<text class="b" transform="translate(9.0,405.5) rotate(-90)" text-anchor="middle" font-size="10.7" fill="#0a0a0a">Frequency (kHz)</text>
<text class="b" transform="translate(9.5,256.3) rotate(-90)" text-anchor="middle" font-size="10.2" fill="#0a0a0a"><tspan font-style="italic">R</tspan> (m)</text>
<text class="b" transform="translate(9.5,551.6) rotate(-90)" text-anchor="middle" font-size="10.2" fill="#0a0a0a"><tspan font-style="italic">R</tspan> (m)</text>
</svg></body></html>
